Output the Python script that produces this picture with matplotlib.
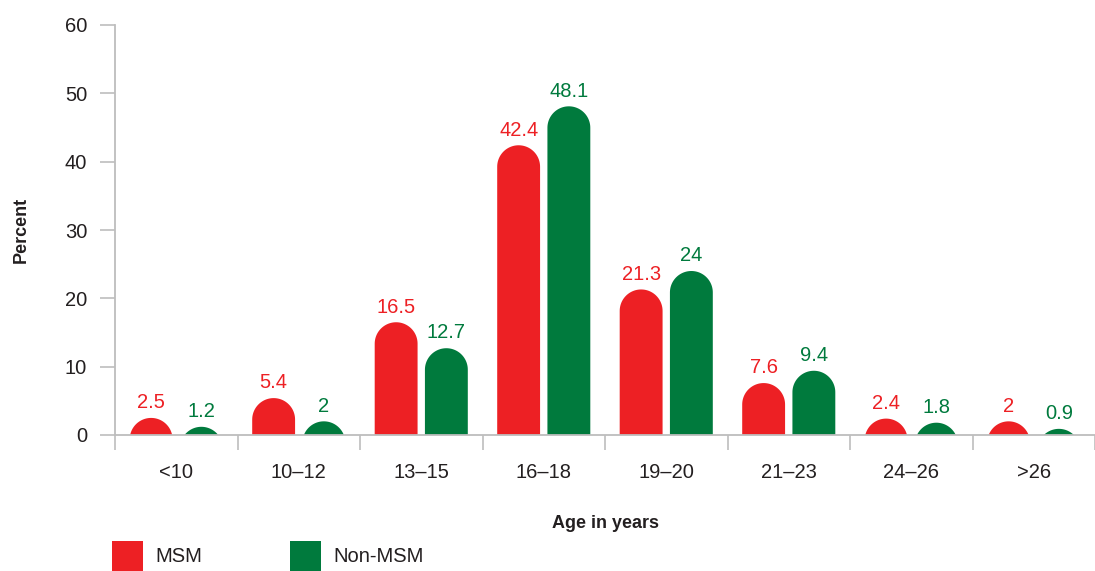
import numpy as np
import matplotlib
matplotlib.use("Agg")
import matplotlib.pyplot as plt
from matplotlib.patches import Rectangle, PathPatch
from matplotlib.path import Path
from matplotlib import font_manager

ages = ["<10", "10–12", "13–15", "16–18", "19–20", "21–23", "24–26", ">26"]
msm = [2.5, 5.4, 16.5, 42.4, 21.3, 7.6, 2.4, 2]
non_msm = [1.2, 2, 12.7, 48.1, 24, 9.4, 1.8, 0.9]
series_names = ["MSM", "Non-MSM"]

RED = "#ED2024"; GREEN = "#007A3D"; GREY = "#BDBDBD"; INK = "#231F20"

names = {f.name for f in font_manager.fontManager.ttflist}
fam = [f for f in ["Liberation Sans Narrow", "Liberation Sans", "DejaVu Sans"] if f in names]
plt.rcParams["font.family"] = fam

W, H = 1095, 571
fig = plt.figure(figsize=(W/100, H/100), dpi=100)
ax = fig.add_axes([115/W, 1-435/H, (1095-115)/W, (435-25)/H])
ax.set_xlim(-0.5, 7.5); ax.set_ylim(0, 60)

bw = 0.35; off = 0.205
px_per_x = (1095-115)/8.0
px_per_y = (435-25)/60.0
r_px = bw*px_per_x/2
ry = r_px/px_per_y

def rbar(xc, v, col):
    # stadium-topped bar: top of the round cap sits at the value, clipped at 0
    cy = v - ry
    t = np.linspace(0, np.pi, 60)
    arc = np.column_stack([xc + bw/2*np.cos(t), cy + ry*np.sin(t)])
    pts = np.vstack([[xc+bw/2, -10], arc, [xc-bw/2, -10], [xc+bw/2, -10]])
    codes = [Path.MOVETO] + [Path.LINETO]*(len(pts)-2) + [Path.CLOSEPOLY]
    ax.add_patch(PathPatch(Path(pts, codes), facecolor=col, edgecolor="none", zorder=2))

for i, (a, b) in enumerate(zip(msm, non_msm)):
    rbar(i-off, a, RED); rbar(i+off, b, GREEN)
    ax.annotate(f"{a:g}", (i-off, a), xytext=(0, 7), textcoords="offset points",
                ha="center", va="baseline", fontsize=14.5, color=RED)
    ax.annotate(f"{b:g}", (i+off, b), xytext=(0, 7), textcoords="offset points",
                ha="center", va="baseline", fontsize=14.5, color=GREEN)

for s in ["top", "right"]:
    ax.spines[s].set_visible(False)
for s in ["left", "bottom"]:
    ax.spines[s].set_color(GREY); ax.spines[s].set_linewidth(1.3)

ax.set_yticks(range(0, 61, 10))
ax.tick_params(axis="y", length=11, width=1.2, color=GREY, labelsize=14.5, labelcolor=INK, pad=9)
ax.set_xticks([i-0.5 for i in range(9)])
ax.set_xticklabels([])
ax.tick_params(axis="x", which="major", length=11, width=1.2, color=GREY)
ax.set_xticks(range(len(ages)), minor=True)
ax.set_xticklabels(ages, minor=True)
ax.tick_params(axis="x", which="minor", length=0, labelsize=14.5, labelcolor=INK, pad=20)

ax.set_ylabel("Percent", fontsize=13, fontweight="bold", color=INK)
ax.yaxis.set_label_coords(-0.087, 0.5)
ax.set_xlabel("Age in years", fontsize=13, fontweight="bold", color=INK)
ax.xaxis.set_label_coords(0.5, -0.195)

# legend
for x0, col, name in [(112, RED, series_names[0]), (290, GREEN, series_names[1])]:
    fig.add_artist(Rectangle((x0/W, 0), 31/W, 30/H, facecolor=col, edgecolor="none",
                             transform=fig.transFigure))
    fig.text((x0+43)/W, 1-556/H, name, fontsize=14.5, color=INK, va="center", ha="left")

fig.savefig("out.png", dpi=100)
